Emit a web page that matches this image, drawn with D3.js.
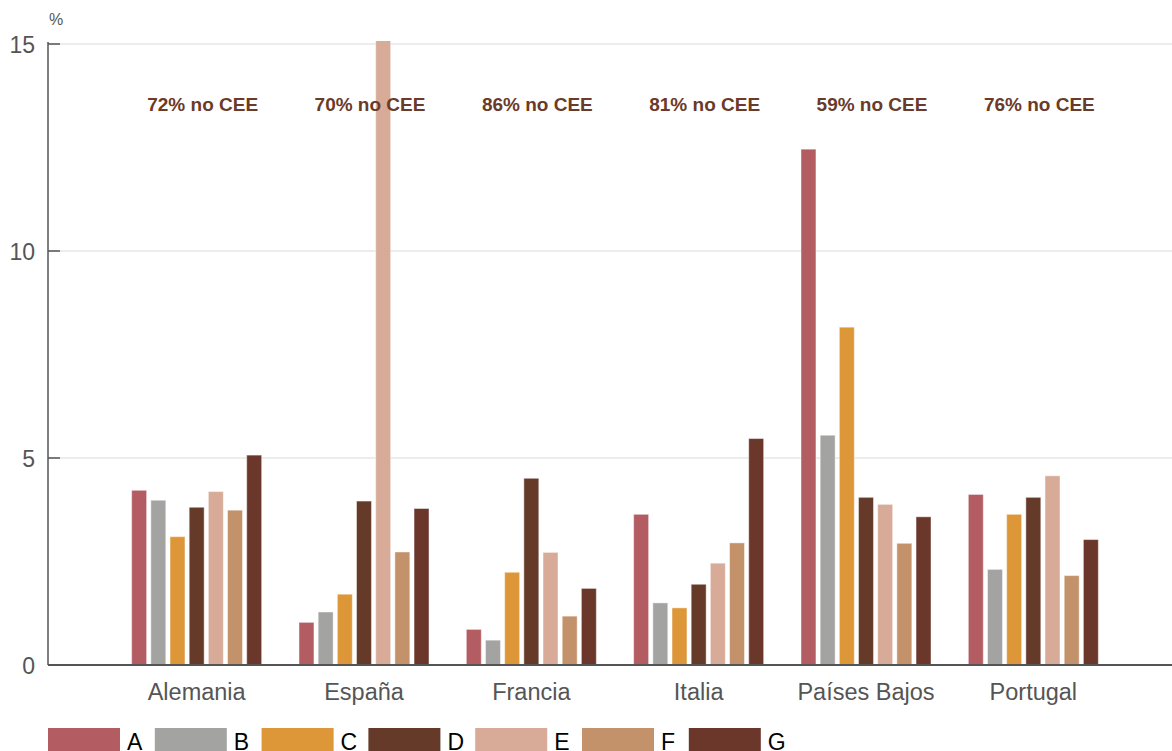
<!DOCTYPE html>
<meta charset="utf-8">
<style>
body { margin: 0; background: #fff; }
text { font-family: "Liberation Sans", Arial, sans-serif; }
</style>
<svg width="1172" height="751"></svg>
<script src="https://d3js.org/d3.v7.min.js"></script>
<script>

// data
var categories = ["Alemania", "España", "Francia", "Italia", "Países Bajos", "Portugal"];
var series = ["A", "B", "C", "D", "E", "F", "G"];
var colors = ["#b35c62", "#a3a3a1", "#dd9638", "#653a28", "#d7ab97", "#c3926a", "#6b372b"];

var valuesA = [4.22, 1.03, 0.86, 3.64, 12.46, 4.12];
var valuesB = [3.98, 1.28, 0.60, 1.50, 5.55, 2.31];
var valuesC = [3.10, 1.71, 2.24, 1.38, 8.16, 3.64];
var valuesD = [3.81, 3.96, 4.51, 1.95, 4.05, 4.05];
var valuesE = [4.19, 16.0, 2.72, 2.46, 3.88, 4.57];
var valuesF = [3.74, 2.73, 1.18, 2.95, 2.94, 2.16];
var valuesG = [5.07, 3.78, 1.85, 5.47, 3.58, 3.03];

var notes = ["72% no CEE", "70% no CEE", "86% no CEE", "81% no CEE", "59% no CEE", "76% no CEE"];
var yTicks = [0, 5, 10, 15];

var allValues = [valuesA, valuesB, valuesC, valuesD, valuesE, valuesF, valuesG];

var svg = d3.select("svg"),
    width = +svg.attr("width"),
    height = +svg.attr("height");

var plotLeft = 48, plotRight = 1172, plotTop = 44, plotBottom = 665;

var x0 = d3.scaleBand()
    .domain(categories)
    .range([113, 1117]);

var x1 = d3.scaleBand()
    .domain(series)
    .range([0, 130])
    .paddingInner(0.22);

var y = d3.scaleLinear()
    .domain([0, 15])
    .range([plotBottom, plotTop]);

var color = d3.scaleOrdinal(series, colors);

// gridlines
svg.append("g")
  .selectAll("line")
  .data(yTicks.filter(function(d) { return d > 0; }))
  .enter().append("line")
    .attr("x1", plotLeft).attr("x2", plotRight)
    .attr("y1", function(d) { return y(d); })
    .attr("y2", function(d) { return y(d); })
    .attr("stroke", "#e6e6e6")
    .attr("stroke-width", 1.5);

// clip so the tall bar stops just above the top
svg.append("clipPath").attr("id", "plot")
  .append("rect")
    .attr("x", plotLeft).attr("y", plotTop - 3)
    .attr("width", plotRight - plotLeft).attr("height", plotBottom - plotTop + 3);

// bars
var rows = [];
categories.forEach(function(c, i) {
  series.forEach(function(s, j) {
    rows.push({cat: c, key: s, value: allValues[j][i]});
  });
});

svg.append("g")
    .attr("clip-path", "url(#plot)")
  .selectAll("rect")
  .data(rows)
  .enter().append("rect")
    .attr("x", function(d) { return x0(d.cat) + x0.bandwidth() / 2 - 65 + x1(d.key); })
    .attr("y", function(d) { return y(d.value); })
    .attr("width", x1.bandwidth())
    .attr("height", function(d) { return y(0) - y(d.value); })
    .attr("fill", function(d) { return color(d.key); })
    .attr("stroke", "#fff")
    .attr("stroke-opacity", 0.45)
    .attr("stroke-width", 1);

// notes above each group
svg.append("g")
  .selectAll("text")
  .data(categories)
  .enter().append("text")
    .attr("x", function(d) { return x0(d) + x0.bandwidth() / 2 + 6; })
    .attr("y", 111)
    .attr("text-anchor", "middle")
    .attr("font-size", 19)
    .attr("font-weight", "bold")
    .attr("fill", "#6b3a28")
    .text(function(d, i) { return notes[i]; });

// y axis
var yAxis = svg.append("g");
yAxis.append("line")
    .attr("x1", plotLeft).attr("x2", plotLeft)
    .attr("y1", plotTop - 2).attr("y2", plotBottom)
    .attr("stroke", "#555").attr("stroke-width", 1.5);

yAxis.selectAll(".tick")
  .data(yTicks)
  .enter().append("line")
    .attr("x1", plotLeft).attr("x2", plotLeft + 12)
    .attr("y1", function(d) { return y(d); })
    .attr("y2", function(d) { return y(d); })
    .attr("stroke", "#555").attr("stroke-width", 1.5);

yAxis.selectAll("text")
  .data(yTicks)
  .enter().append("text")
    .attr("x", 35)
    .attr("y", function(d) { return y(d) + 9; })
    .attr("text-anchor", "end")
    .attr("font-size", 23)
    .attr("fill", "#555")
    .text(function(d) { return d; });

svg.append("text")
    .attr("x", 49).attr("y", 25)
    .attr("font-size", 16)
    .attr("fill", "#555")
    .text("%");

// x axis
svg.append("line")
    .attr("x1", plotLeft).attr("x2", plotRight)
    .attr("y1", plotBottom).attr("y2", plotBottom)
    .attr("stroke", "#555").attr("stroke-width", 2);

svg.append("g")
  .selectAll("text")
  .data(categories)
  .enter().append("text")
    .attr("x", function(d) { return x0(d) + x0.bandwidth() / 2; })
    .attr("y", 700)
    .attr("text-anchor", "middle")
    .attr("font-size", 23.5)
    .attr("fill", "#555")
    .text(function(d) { return d; });

// legend
var legendX = d3.scaleBand()
    .domain(series)
    .range([48, 48 + 7 * 106.8]);

var legend = svg.append("g")
  .selectAll("g")
  .data(series)
  .enter().append("g")
    .attr("transform", function(d) { return "translate(" + legendX(d) + ",728)"; });

legend.append("rect")
    .attr("width", 72)
    .attr("height", 26)
    .attr("fill", function(d) { return color(d); });

legend.append("text")
    .attr("x", 79)
    .attr("y", 22)
    .attr("font-size", 23)
    .attr("fill", "#000")
    .text(function(d) { return d; });

</script>
